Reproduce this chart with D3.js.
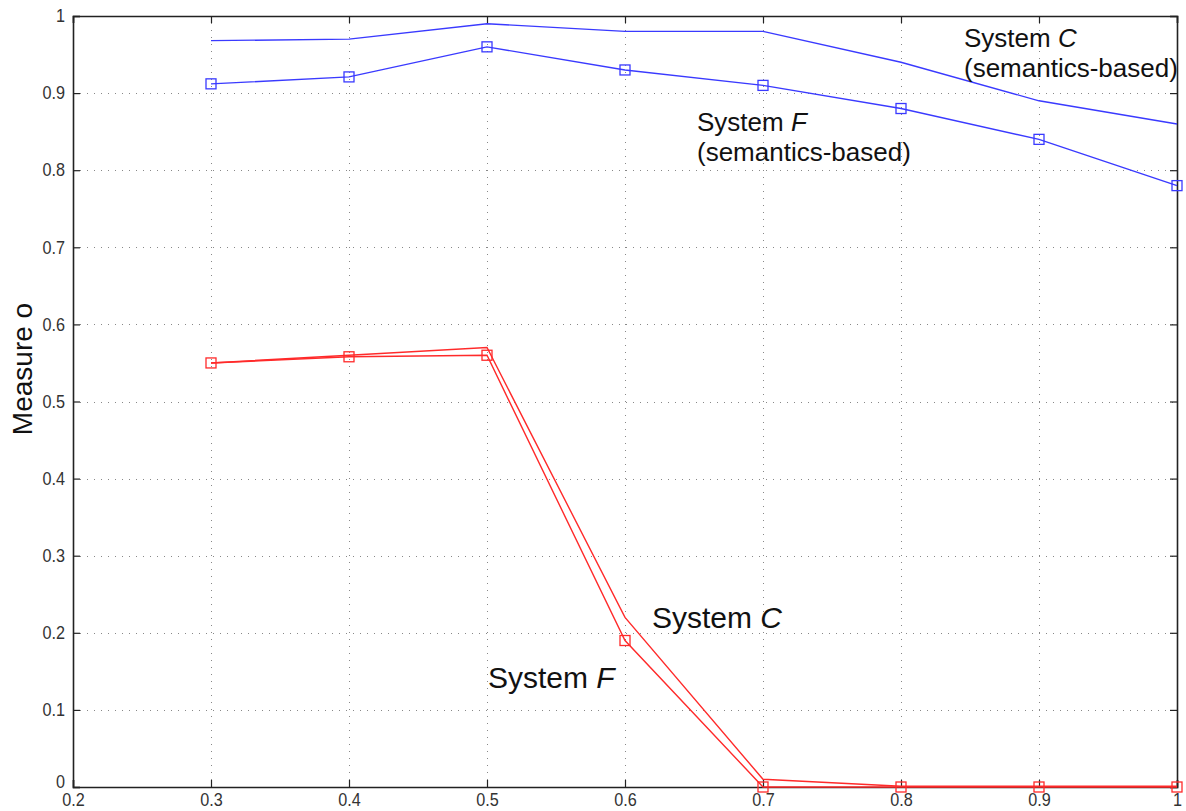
<!DOCTYPE html>
<html>
<head>
<meta charset="utf-8">
<script src="https://cdn.jsdelivr.net/npm/d3@7"></script>
<style>
  body { margin: 0; background: #fff; }
  svg text { font-family: "Liberation Sans", Arial, sans-serif; }
</style>
</head>
<body>
<svg id="chart" width="1186" height="811"></svg>
<script>
// data
var thresholds = [0.3, 0.4, 0.5, 0.6, 0.7, 0.8, 0.9, 1.0];
var semC = [0.968, 0.970, 0.990, 0.980, 0.980, 0.940, 0.890, 0.860];
var semF = [0.912, 0.921, 0.960, 0.930, 0.910, 0.880, 0.840, 0.780];
var sysC = [0.550, 0.560, 0.570, 0.220, 0.010, 0.001, 0.001, 0.001];
var sysF = [0.550, 0.558, 0.560, 0.190, 0.000, 0.000, 0.000, 0.000];
var xTicks = [0.2, 0.3, 0.4, 0.5, 0.6, 0.7, 0.8, 0.9, 1];
var yTicks = [0, 0.1, 0.2, 0.3, 0.4, 0.5, 0.6, 0.7, 0.8, 0.9, 1];

var series = [
    {values: semC, color: "#3a3aff", markers: false},
    {values: semF, color: "#3a3aff", markers: true},
    {values: sysC, color: "#ff2a2a", markers: false},
    {values: sysF, color: "#ff2a2a", markers: true}
];

var margin = {left: 73, right: 9, top: 16, bottom: 24};
var svg = d3.select("#chart");
var W = +svg.attr("width"), H = +svg.attr("height");

var x = d3.scaleLinear().domain([0.2, 1]).range([margin.left, W - margin.right]);
var y = d3.scaleLinear().domain([0, 1]).range([H - margin.bottom, margin.top]);

// grid (dotted)
var grid = svg.append("g").attr("stroke", "#888").attr("stroke-width", 1)
    .attr("stroke-dasharray", "1,6");
grid.selectAll(".gx").data(xTicks.slice(1, -1)).enter().append("line")
    .attr("x1", function(d) { return Math.round(x(d)) + 0.5; })
    .attr("x2", function(d) { return Math.round(x(d)) + 0.5; })
    .attr("y1", y(1)).attr("y2", y(0));
grid.selectAll(".gy").data(yTicks.slice(1, -1)).enter().append("line")
    .attr("y1", function(d) { return Math.round(y(d)) + 0.5; })
    .attr("y2", function(d) { return Math.round(y(d)) + 0.5; })
    .attr("x1", x(0.2)).attr("x2", x(1));

// axes, matlab style: ticks inside, box all round
var tickLen = 7;
var fmt = function(d) { return (d === 0 || d === 1) ? String(d) : d3.format(".1f")(d); };
var xAxis = d3.axisBottom(x).tickValues(xTicks).tickSize(-tickLen).tickPadding(6).tickFormat(fmt);
var yAxis = d3.axisLeft(y).tickValues(yTicks).tickSize(-tickLen).tickPadding(9).tickFormat(fmt);

var gx = svg.append("g").attr("transform", "translate(0," + y(0) + ")").call(xAxis);
var gy = svg.append("g").attr("transform", "translate(" + x(0.2) + ",0)").call(yAxis);
svg.append("g").attr("transform", "translate(0," + y(1) + ")")
    .call(d3.axisTop(x).tickValues(xTicks).tickSize(-tickLen).tickFormat(""));
svg.append("g").attr("transform", "translate(" + x(1) + ",0)")
    .call(d3.axisRight(y).tickValues(yTicks).tickSize(-tickLen).tickFormat(""));

svg.selectAll(".domain").attr("stroke", "#222").attr("stroke-width", 1.6);
svg.selectAll(".tick line").attr("stroke", "#222").attr("stroke-width", 1.2);
// tick labels in the picture are tall and narrow
svg.selectAll(".tick text").attr("font-size", 18).attr("fill", "#333")
    .attr("font-family", "Liberation Sans, Arial, sans-serif")
    .attr("transform", "scale(0.9,1)");
// lift the y "0" a little so it clears the x "0.2"
gy.selectAll(".tick text").filter(function(d) { return d === 0; }).attr("dy", "0.05em");

// y label
svg.append("text")
    .attr("transform", "translate(32,369) rotate(-90)")
    .attr("text-anchor", "middle").attr("font-size", 28).attr("fill", "#111")
    .text("Measure o");

// lines and markers
var line = d3.line()
    .x(function(d, i) { return x(thresholds[i]); })
    .y(function(d) { return y(d); });

series.forEach(function(s) {
    svg.append("path").datum(s.values)
        .attr("fill", "none").attr("stroke", s.color).attr("stroke-width", 1.4)
        .attr("d", line);
    if (s.markers) {
        svg.append("g").selectAll("rect").data(s.values).enter().append("rect")
            .attr("x", function(d, i) { return x(thresholds[i]) - 5; })
            .attr("y", function(d) { return y(d) - 5; })
            .attr("width", 10).attr("height", 10)
            .attr("fill", "none").attr("stroke", s.color).attr("stroke-width", 1.3);
    }
});

// annotations
function label(px, py, size, name, sub) {
    var t = svg.append("text").attr("x", px).attr("y", py)
        .attr("font-size", size).attr("fill", "#111");
    t.append("tspan").text("System ");
    t.append("tspan").attr("font-style", "italic").text(name);
    if (sub) {
        svg.append("text").attr("x", px).attr("y", py + 30)
            .attr("font-size", size).attr("fill", "#111").text(sub);
    }
}
label(964, 47, 26, "C", "(semantics-based)");
label(697, 131, 26, "F", "(semantics-based)");
label(652, 628, 30, "C");
label(488, 688, 30, "F");
</script>
</body>
</html>
